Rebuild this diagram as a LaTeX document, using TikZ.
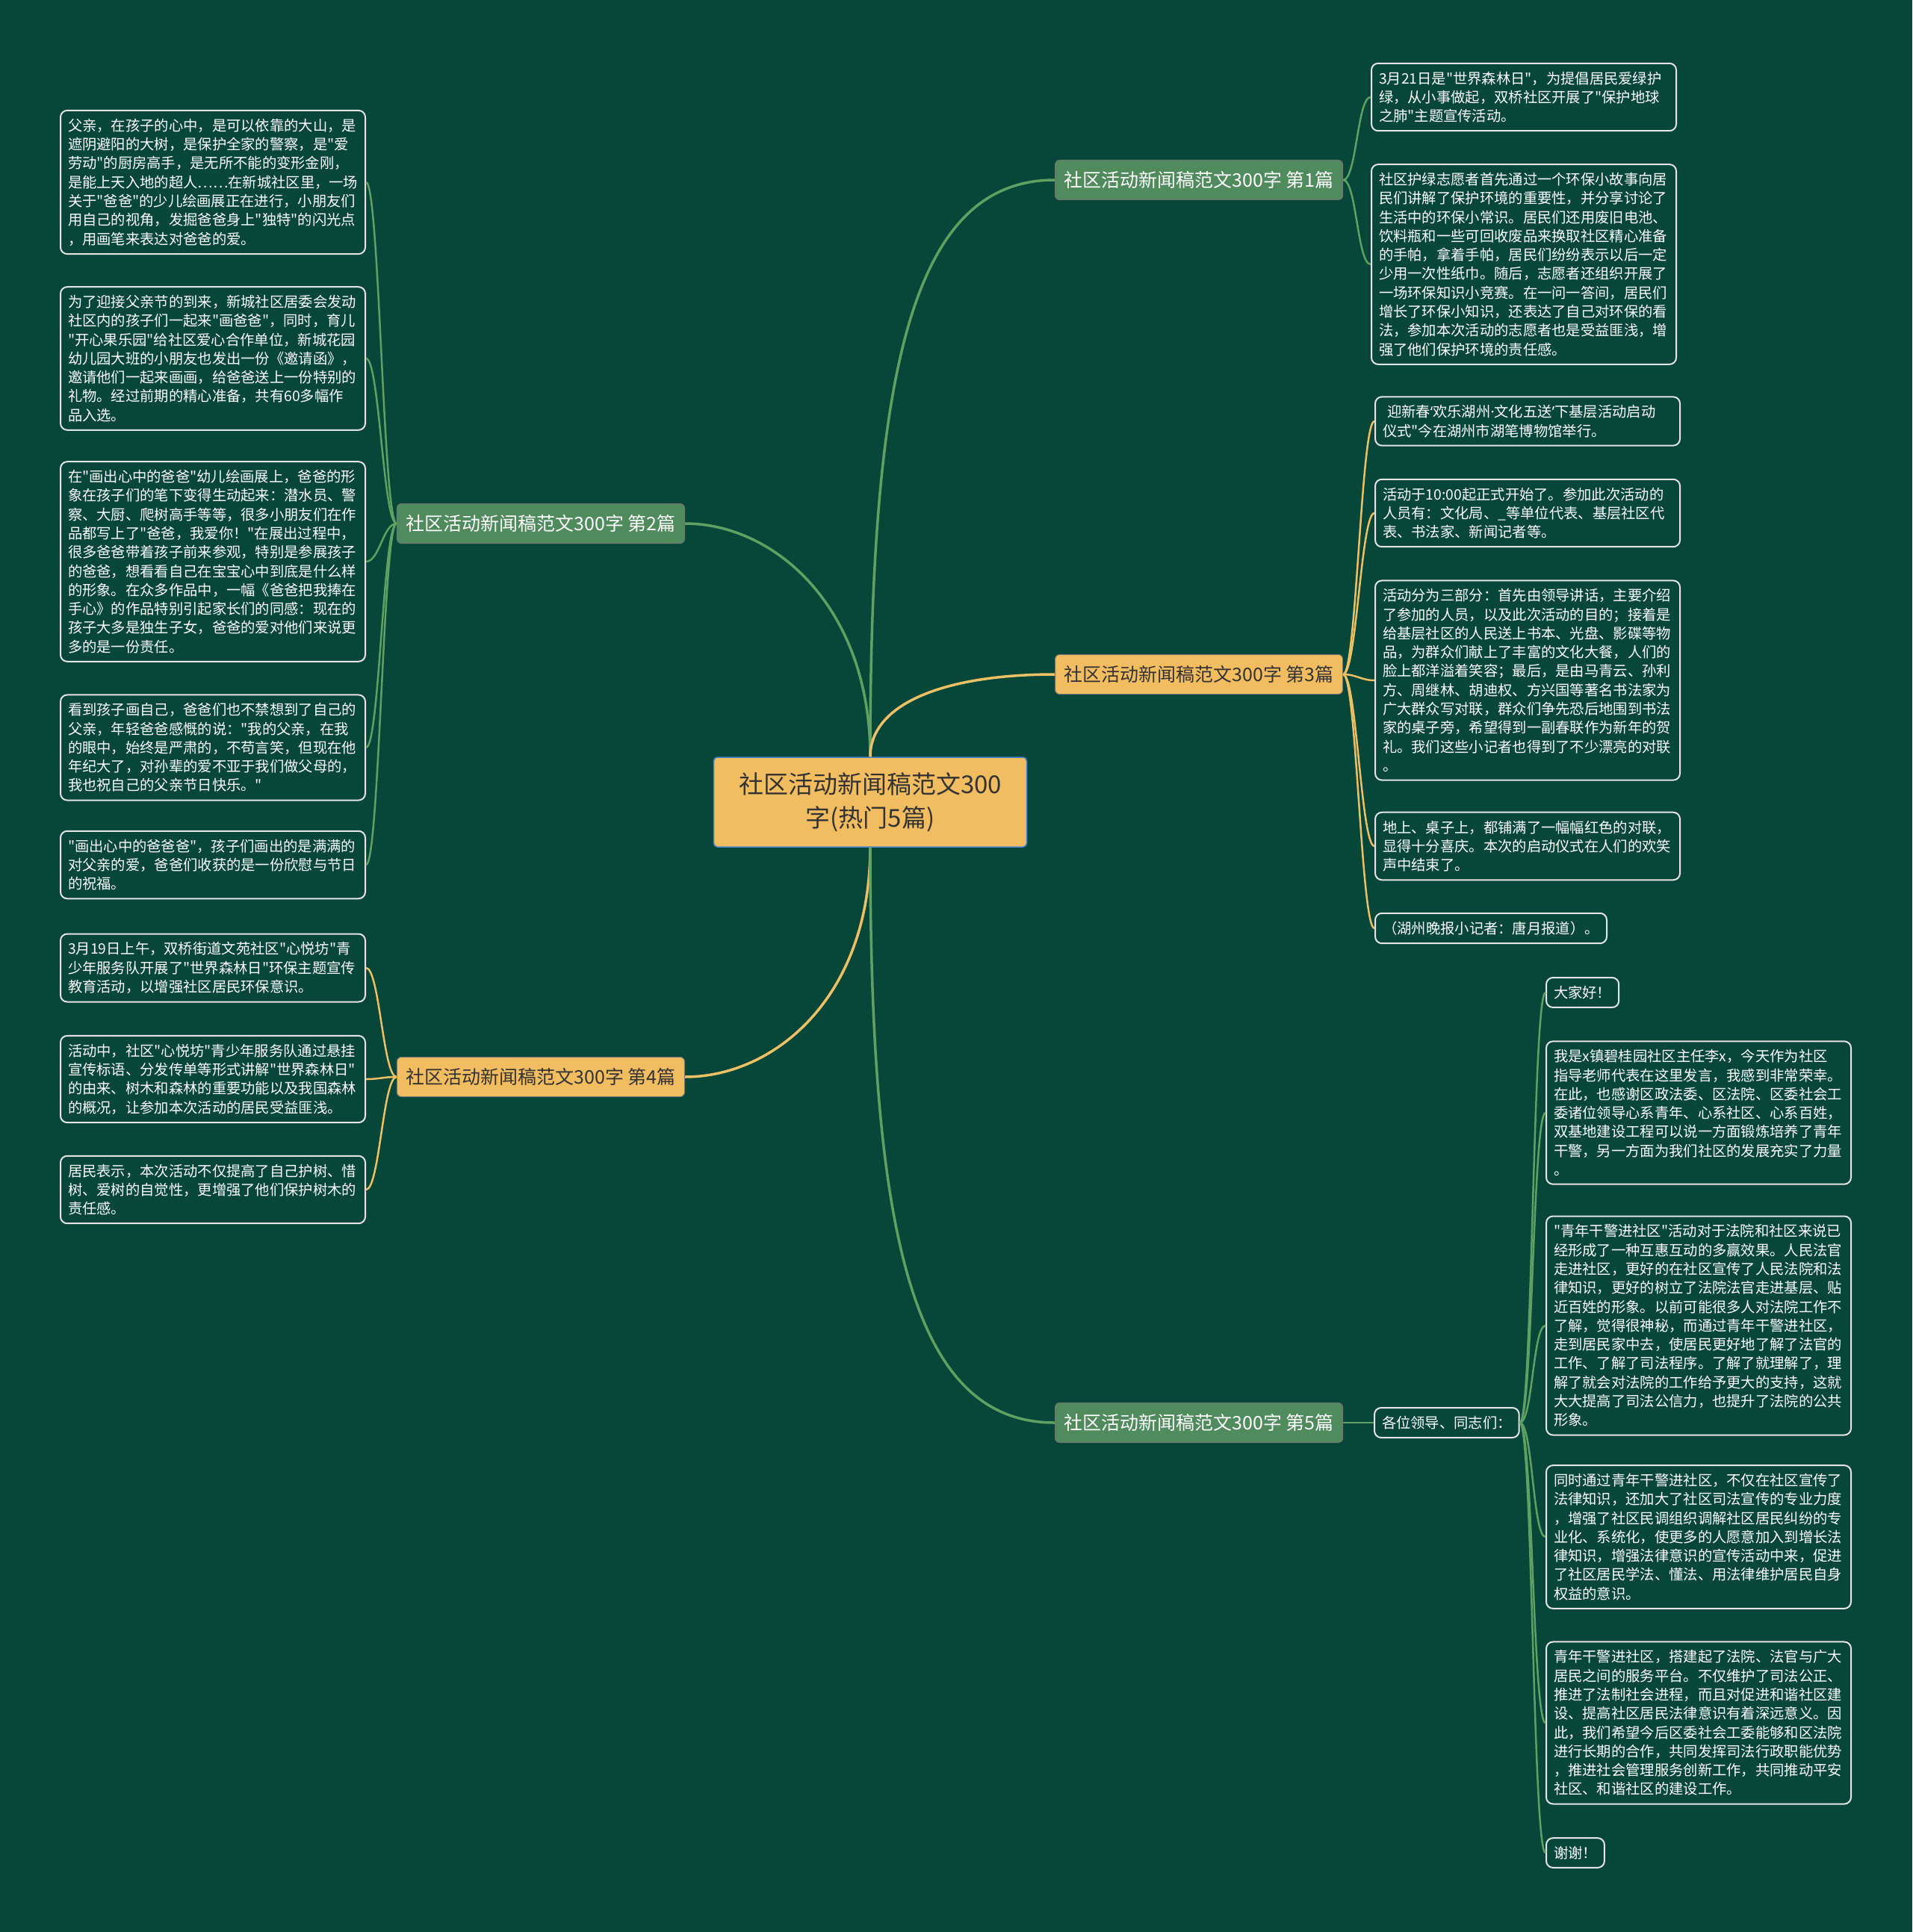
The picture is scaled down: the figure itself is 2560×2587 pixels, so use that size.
\documentclass[tikz,border=0pt]{standalone}
\usepackage{fontspec}
\setmainfont{Noto Sans CJK SC}[Ligatures=TeXOff]
\newfontfamily\latinf{Noto Sans}
\definecolor{bgc}{HTML}{07473A}
\definecolor{grn}{HTML}{4F8B5C}
\definecolor{org}{HTML}{F2BC61}
\definecolor{glin}{HTML}{5FA063}
\definecolor{olin}{HTML}{EEC066}
\definecolor{leafline}{HTML}{E4E4E4}
\definecolor{rootline}{HTML}{4A86D0}
\definecolor{txtdark}{HTML}{333333}
\begin{document}
\begin{tikzpicture}[x=1pt,y=-1pt,
  root/.style={draw=rootline,line width=1.5pt,fill=org,rounded corners=5pt,text=txtdark,font=\fontsize{33}{45}\selectfont,align=center,minimum width=419pt,minimum height=120pt},
  topic/.style={draw=black!55,line width=1pt,rounded corners=6pt,font=\fontsize{25}{30}\selectfont,inner xsep=12pt,minimum height=53pt},
  gtopic/.style={topic,fill=grn,text=white},
  otopic/.style={topic,fill=org,text=txtdark},
  leaf/.style={draw=leafline,line width=2pt,rounded corners=9pt,fill=bgc,text=white,font=\fontsize{19.3}{25.3}\selectfont,align=left,inner xsep=10pt,inner ysep=11pt},
  para/.style={leaf,text width=388pt},
  gmain/.style={draw=glin,line width=3.5pt},
  omain/.style={draw=olin,line width=3.5pt},
  gleaf/.style={draw=glin,line width=2.5pt},
  oleaf/.style={draw=olin,line width=2.5pt}]
\useasboundingbox (0,0) rectangle (2560,2587);
\fill[bgc] (0,0) rectangle (2560,2587);

\node[root] (R) at (1165,1074) {社区活动新闻稿范文300\\字(热门5篇)};

\node[gtopic,anchor=west] (B1) at (1412,241) {社区活动新闻稿范文300字 第1篇};
\node[gtopic,anchor=east] (B2) at (917,701) {社区活动新闻稿范文300字 第2篇};
\node[otopic,anchor=west] (B3) at (1412,903) {社区活动新闻稿范文300字 第3篇};
\node[otopic,anchor=east] (B4) at (917,1442) {社区活动新闻稿范文300字 第4篇};
\node[gtopic,anchor=west] (B5) at (1412,1905) {社区活动新闻稿范文300字 第5篇};

\draw[gmain] (R.north) .. controls +(0,-520) and +(-190,0) .. (B1.west);
\draw[gmain] (R.north) .. controls +(0,-200) and +(120,0) .. (B2.east);
\draw[omain] (R.north) .. controls +(0,-70) and +(-150,0) .. (B3.west);
\draw[omain] (R.south) .. controls +(0,200) and +(120,0) .. (B4.east);
\draw[gmain] (R.south) .. controls +(0,520) and +(-190,0) .. (B5.west);

% 第1篇
\node[para,anchor=west] (L1a) at (1835,130) {3月21日是"世界森林日"，为提倡居民爱绿护\\绿，从小事做起，双桥社区开展了"保护地球\\之肺"主题宣传活动。};
\node[para,anchor=west] (L1b) at (1835,354) {社区护绿志愿者首先通过一个环保小故事向居\\民们讲解了保护环境的重要性，并分享讨论了\\生活中的环保小常识。居民们还用废旧电池、\\饮料瓶和一些可回收废品来换取社区精心准备\\的手帕，拿着手帕，居民们纷纷表示以后一定\\少用一次性纸巾。随后，志愿者还组织开展了\\一场环保知识小竞赛。在一问一答间，居民们\\增长了环保小知识，还表达了自己对环保的看\\法，参加本次活动的志愿者也是受益匪浅，增\\强了他们保护环境的责任感。};
\draw[gleaf] (B1.east) .. controls +(18,0) and +(-18,0) .. (L1a.west);
\draw[gleaf] (B1.east) .. controls +(18,0) and +(-18,0) .. (L1b.west);

% 第2篇
\node[para,anchor=east] (L2a) at (490,244) {父亲，在孩子的心中，是可以依靠的大山，是\\遮阴避阳的大树，是保护全家的警察，是"爱\\劳动"的厨房高手，是无所不能的变形金刚，\\是能上天入地的超人……在新城社区里，一场\\关于"爸爸"的少儿绘画展正在进行，小朋友们\\用自己的视角，发掘爸爸身上"独特"的闪光点\\，用画笔来表达对爸爸的爱。};
\node[para,anchor=east] (L2b) at (490,480) {为了迎接父亲节的到来，新城社区居委会发动\\社区内的孩子们一起来"画爸爸"，同时，育儿\\"开心果乐园"给社区爱心合作单位，新城花园\\幼儿园大班的小朋友也发出一份《邀请函》，\\邀请他们一起来画画，给爸爸送上一份特别的\\礼物。经过前期的精心准备，共有60多幅作\\品入选。};
\node[para,anchor=east] (L2c) at (490,752) {在"画出心中的爸爸"幼儿绘画展上，爸爸的形\\象在孩子们的笔下变得生动起来：潜水员、警\\察、大厨、爬树高手等等，很多小朋友们在作\\品都写上了"爸爸，我爱你！"在展出过程中，\\很多爸爸带着孩子前来参观，特别是参展孩子\\的爸爸，想看看自己在宝宝心中到底是什么样\\的形象。在众多作品中，一幅《爸爸把我捧在\\手心》的作品特别引起家长们的同感：现在的\\孩子大多是独生子女，爸爸的爱对他们来说更\\多的是一份责任。};
\node[para,anchor=east] (L2d) at (490,1001) {看到孩子画自己，爸爸们也不禁想到了自己的\\父亲，年轻爸爸感慨的说："我的父亲，在我\\的眼中，始终是严肃的，不苟言笑，但现在他\\年纪大了，对孙辈的爱不亚于我们做父母的，\\我也祝自己的父亲节日快乐。"};
\node[para,anchor=east] (L2e) at (490,1158) {"画出心中的爸爸爸"，孩子们画出的是满满的\\对父亲的爱，爸爸们收获的是一份欣慰与节日\\的祝福。};
\draw[gleaf] (B2.west) .. controls +(-18,0) and +(18,0) .. (L2a.east);
\draw[gleaf] (B2.west) .. controls +(-18,0) and +(18,0) .. (L2b.east);
\draw[gleaf] (B2.west) .. controls +(-18,0) and +(18,0) .. (L2c.east);
\draw[gleaf] (B2.west) .. controls +(-18,0) and +(18,0) .. (L2d.east);
\draw[gleaf] (B2.west) .. controls +(-18,0) and +(18,0) .. (L2e.east);

% 第3篇
\node[para,anchor=west] (L3a) at (1840,564) {\hspace*{6pt}迎新春{\latinf ‘}欢乐湖州{\latinf ·}文化五送{\latinf ’}下基层活动启动\\仪式"今在湖州市湖笔博物馆举行。};
\node[para,anchor=west] (L3b) at (1840,687) {活动于10:00起正式开始了。参加此次活动的\\人员有：文化局、\_等单位代表、基层社区代\\表、书法家、新闻记者等。};
\node[para,anchor=west] (L3c) at (1840,911) {活动分为三部分：首先由领导讲话，主要介绍\\了参加的人员，以及此次活动的目的；接着是\\给基层社区的人民送上书本、光盘、影碟等物\\品，为群众们献上了丰富的文化大餐，人们的\\脸上都洋溢着笑容；最后，是由马青云、孙利\\方、周继林、胡迪权、方兴国等著名书法家为\\广大群众写对联，群众们争先恐后地围到书法\\家的桌子旁，希望得到一副春联作为新年的贺\\礼。我们这些小记者也得到了不少漂亮的对联\\。};
\node[para,anchor=west] (L3d) at (1840,1133) {地上、桌子上，都铺满了一幅幅红色的对联，\\显得十分喜庆。本次的启动仪式在人们的欢笑\\声中结束了。};
\node[leaf,anchor=west,minimum width=310pt] (L3e) at (1840,1243) {（湖州晚报小记者：唐月报道）。};
\draw[oleaf] (B3.east) .. controls +(18,0) and +(-18,0) .. (L3a.west);
\draw[oleaf] (B3.east) .. controls +(18,0) and +(-18,0) .. (L3b.west);
\draw[oleaf] (B3.east) .. controls +(18,0) and +(-18,0) .. (L3c.west);
\draw[oleaf] (B3.east) .. controls +(18,0) and +(-18,0) .. (L3d.west);
\draw[oleaf] (B3.east) .. controls +(18,0) and +(-18,0) .. (L3e.west);

% 第4篇
\node[para,anchor=east] (L4a) at (490,1296) {3月19日上午，双桥街道文苑社区"心悦坊"青\\少年服务队开展了"世界森林日"环保主题宣传\\教育活动，以增强社区居民环保意识。};
\node[para,anchor=east] (L4b) at (490,1445) {活动中，社区"心悦坊"青少年服务队通过悬挂\\宣传标语、分发传单等形式讲解"世界森林日"\\的由来、树木和森林的重要功能以及我国森林\\的概况，让参加本次活动的居民受益匪浅。};
\node[para,anchor=east] (L4c) at (490,1593) {居民表示，本次活动不仅提高了自己护树、惜\\树、爱树的自觉性，更增强了他们保护树木的\\责任感。};
\draw[oleaf] (B4.west) .. controls +(-18,0) and +(18,0) .. (L4a.east);
\draw[oleaf] (B4.west) .. controls +(-18,0) and +(18,0) .. (L4b.east);
\draw[oleaf] (B4.west) .. controls +(-18,0) and +(18,0) .. (L4c.east);

% 第5篇
\node[leaf,anchor=west] (G) at (1839,1905) {各位领导、同志们：};
\draw[gleaf] (B5.east) -- (G.west);
\node[leaf,anchor=west] (L5a) at (2069,1329) {大家好！};
\node[para,anchor=west] (L5b) at (2069,1490) {我是x镇碧桂园社区主任李x，今天作为社区\\指导老师代表在这里发言，我感到非常荣幸。\\在此，也感谢区政法委、区法院、区委社会工\\委诸位领导心系青年、心系社区、心系百姓，\\双基地建设工程可以说一方面锻炼培养了青年\\干警，另一方面为我们社区的发展充实了力量\\。};
\node[para,anchor=west] (L5c) at (2069,1775) {"青年干警进社区"活动对于法院和社区来说已\\经形成了一种互惠互动的多赢效果。人民法官\\走进社区，更好的在社区宣传了人民法院和法\\律知识，更好的树立了法院法官走进基层、贴\\近百姓的形象。以前可能很多人对法院工作不\\了解，觉得很神秘，而通过青年干警进社区，\\走到居民家中去，使居民更好地了解了法官的\\工作、了解了司法程序。了解了就理解了，理\\解了就会对法院的工作给予更大的支持，这就\\大大提高了司法公信力，也提升了法院的公共\\形象。};
\node[para,anchor=west] (L5d) at (2069,2058) {同时通过青年干警进社区，不仅在社区宣传了\\法律知识，还加大了社区司法宣传的专业力度\\，增强了社区民调组织调解社区居民纠纷的专\\业化、系统化，使更多的人愿意加入到增长法\\律知识，增强法律意识的宣传活动中来，促进\\了社区居民学法、懂法、用法律维护居民自身\\权益的意识。};
\node[para,anchor=west] (L5e) at (2069,2307) {青年干警进社区，搭建起了法院、法官与广大\\居民之间的服务平台。不仅维护了司法公正、\\推进了法制社会进程，而且对促进和谐社区建\\设、提高社区居民法律意识有着深远意义。因\\此，我们希望今后区委社会工委能够和区法院\\进行长期的合作，共同发挥司法行政职能优势\\，推进社会管理服务创新工作，共同推动平安\\社区、和谐社区的建设工作。};
\node[leaf,anchor=west] (L5f) at (2069,2481) {谢谢！};
\draw[gleaf] (G.east) .. controls +(17,0) and +(-17,0) .. (L5a.west);
\draw[gleaf] (G.east) .. controls +(17,0) and +(-17,0) .. (L5b.west);
\draw[gleaf] (G.east) .. controls +(17,0) and +(-17,0) .. (L5c.west);
\draw[gleaf] (G.east) .. controls +(17,0) and +(-17,0) .. (L5d.west);
\draw[gleaf] (G.east) .. controls +(17,0) and +(-17,0) .. (L5e.west);
\draw[gleaf] (G.east) .. controls +(17,0) and +(-17,0) .. (L5f.west);
\end{tikzpicture}
\end{document}
